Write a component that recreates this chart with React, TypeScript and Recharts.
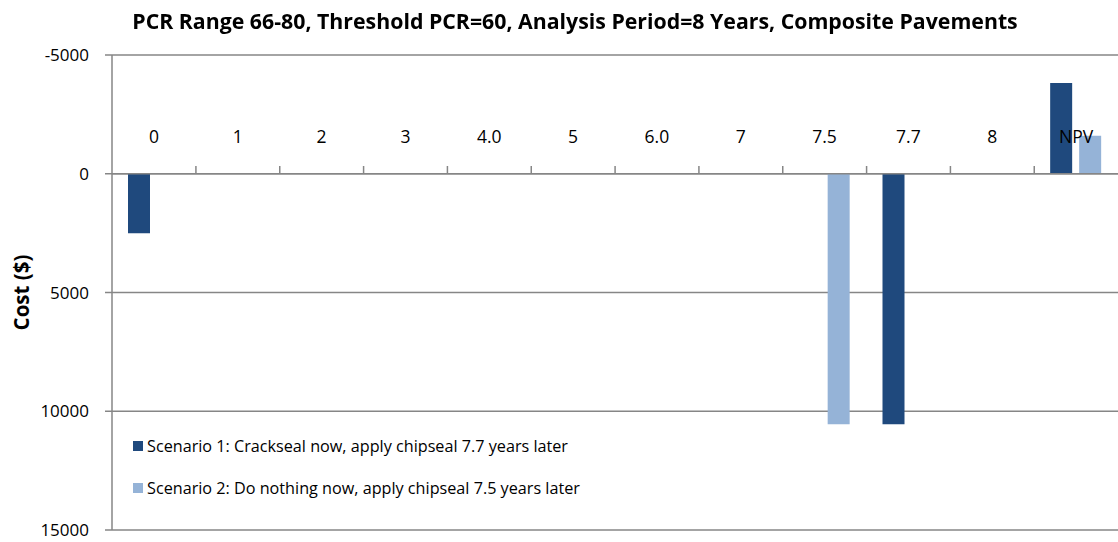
import { Bar, BarChart, CartesianGrid, Legend, XAxis, YAxis, ReferenceLine } from 'recharts';

const categories = ['0', '1', '2', '3', '4.0', '5', '6.0', '7', '7.5', '7.7', '8', 'NPV'];
const scenario1 = [2500, null, null, null, null, null, null, null, null, 10550, null, -3820];
const scenario2 = [null, null, null, null, null, null, null, null, 10550, null, null, -1600];
const yTicks = [-5000, 0, 5000, 10000, 15000];

const seriesNames = [
  'Scenario 1: Crackseal now, apply chipseal 7.7 years later',
  'Scenario 2: Do nothing now, apply chipseal 7.5 years later',
];
const colors = ['#1F497D', '#95B3D7'];

const data = categories.map((c, i) => ({ cat: c, s1: scenario1[i], s2: scenario2[i] }));

const FONT = '"Open Sans", sans-serif';
const LABEL_Y = 143; // category labels sit above the zero line
const ZERO_Y = 173;

function CatTick(props: any) {
  const { x, payload, index } = props;
  return (
    <g>
      <text x={x} y={LABEL_Y} textAnchor="middle" fontSize={17.5} fill="#000" fontFamily={FONT}>
        {payload.value}
      </text>
      {index < categories.length - 1 && (
        <line x1={x + 42} x2={x + 42} y1={ZERO_Y} y2={ZERO_Y - 7} stroke="#868686" strokeWidth={1.5} />
      )}
    </g>
  );
}

function LegendBox() {
  return (
    <div style={{ fontFamily: FONT, fontSize: 16.2, color: '#000' }}>
      {seriesNames.map((n, i) => (
        <div key={n} style={{ display: 'flex', alignItems: 'center', height: 42 }}>
          <span style={{ width: 10, height: 10, background: colors[i], marginRight: 4, display: 'inline-block' }} />
          <span>{n}</span>
        </div>
      ))}
    </div>
  );
}

export default function App() {
  return (
    <div style={{ position: 'fixed', left: 0, top: 0, background: '#fff' }}>
      <div
        style={{
          position: 'absolute',
          top: 6,
          left: 0,
          width: 1150,
          textAlign: 'center',
          fontFamily: FONT,
          fontWeight: 700,
          fontSize: 21.3,
          zIndex: 2,
        }}
      >
        PCR Range 66-80, Threshold PCR=60, Analysis Period=8 Years, Composite Pavements
      </div>
      <BarChart
        width={1118}
        height={542}
        data={data}
        margin={{ top: 54, right: 0, bottom: 12, left: 0 }}
        barCategoryGap="20%"
        barGap={7}
      >
        <CartesianGrid vertical={false} stroke="#868686" strokeWidth={1.5} />
        <ReferenceLine y={0} stroke="#868686" strokeWidth={1.5} />
        <Legend
          layout="horizontal"
          verticalAlign="middle"
          align="center"
          wrapperStyle={{ left: 133, top: 425, width: 600 }}
          content={<LegendBox />}
        />
        <Bar dataKey="s1" name={seriesNames[0]} fill={colors[0]} barSize={22} isAnimationActive={false} />
        <Bar dataKey="s2" name={seriesNames[1]} fill={colors[1]} barSize={22} isAnimationActive={false} />
        <XAxis
          dataKey="cat"
          orientation="top"
          height={1}
          axisLine={false}
          tickLine={false}
          interval={0}
          tick={(p: any) => <CatTick {...p} />}
        />
        <YAxis
          type="number"
          domain={[-5000, 15000]}
          ticks={yTicks}
          reversed
          width={112}
          interval={0}
          stroke="#868686"
          strokeWidth={1.5}
          tickSize={7}
          tickMargin={16}
          tick={{ fill: '#000', fontSize: 17, fontFamily: FONT }}
          label={{
            value: 'Cost ($)',
            angle: -90,
            position: 'insideLeft',
            offset: 22,
            style: { fontWeight: 700, fontSize: 20.5, fill: '#000', fontFamily: FONT, textAnchor: 'middle' },
          }}
        />
      </BarChart>
    </div>
  );
}
